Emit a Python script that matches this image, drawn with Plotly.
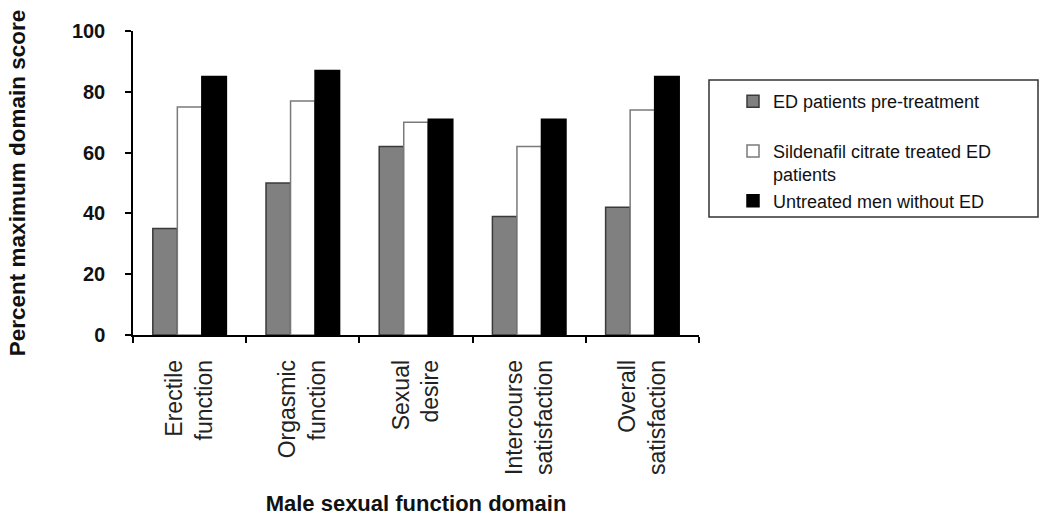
import plotly.graph_objects as go

categories = ["Erectile<br>function", "Orgasmic<br>function", "Sexual<br>desire",
              "Intercourse<br>satisfaction", "Overall<br>satisfaction"]
pre_treatment = [35, 50, 62, 39, 42]
sildenafil = [75, 77, 70, 62, 74]
untreated = [85, 87, 71, 71, 85]

series_names = ["ED patients pre-treatment<br> ",
                "Sildenafil citrate treated ED<br>patients",
                "Untreated men without ED"]

W, H = 1039, 516
L, R, T, B = 133, 340, 31, 181
pw, ph = W - L - R, H - T - B

def px_x(x):
    return (x - L) / pw

def px_y(y):
    return (H - B - y) / ph

fig = go.Figure()
fig.add_trace(go.Bar(x=categories, y=pre_treatment, name=series_names[0],
                     marker=dict(color="#808080", line=dict(color="#3a3a3a", width=1.5)),
                     legendgroup="a"))
fig.add_trace(go.Bar(x=categories, y=sildenafil, name=series_names[1],
                     marker=dict(color="#ffffff", line=dict(color="#7a7a7a", width=1.5)),
                     legendgroup="b"))
fig.add_trace(go.Bar(x=categories, y=untreated, name=series_names[2],
                     marker=dict(color="#000000", line=dict(color="#000000", width=1.5)),
                     legendgroup="c"))

fig.update_layout(
    width=W, height=H,
    margin=dict(l=L, r=R, t=T, b=B, autoexpand=False),
    paper_bgcolor="white", plot_bgcolor="white",
    barmode="group", bargap=0.35, bargroupgap=0,
    font=dict(family="Liberation Sans, Arial, sans-serif", color="#111111"),
    showlegend=True,
    legend=dict(x=px_x(733), y=px_y(83), xanchor="left", yanchor="top",
                bgcolor="rgba(0,0,0,0)", borderwidth=0,
                font=dict(size=18, color="#111111"),
                valign="top", tracegroupgap=0, traceorder="normal",
                itemclick=False),
    xaxis=dict(
        showline=True, linecolor="#000000", linewidth=1.5,
        ticks="outside", tickson="boundaries", ticklen=6, tickwidth=1.5, tickcolor="#000000",
        tickangle=-90, tickfont=dict(size=23, color="#222222"),
        ticklabelstandoff=14,
        showgrid=False, zeroline=False, automargin=False,
        title=dict(text="<b>Male sexual function domain</b>", font=dict(size=22, color="#111111"),
                   standoff=24),
    ),
    yaxis=dict(
        range=[0, 100], tickvals=[0, 20, 40, 60, 80, 100],
        showline=True, linecolor="#000000", linewidth=1.5,
        ticks="outside", ticklen=6, tickwidth=1.5, tickcolor="#000000",
        tickfont=dict(size=20, color="#111111", weight="bold"),
        ticklabelstandoff=16,
        showgrid=False, zeroline=False, automargin=False,
        title=dict(text="<b>Percent maximum domain score</b>", font=dict(size=22.5, color="#111111"),
                   standoff=40),
    ),
    shapes=[dict(type="rect", xref="paper", yref="paper",
                 x0=px_x(709), x1=px_x(1038), y0=px_y(217), y1=px_y(80),
                 line=dict(color="#333333", width=1.5), fillcolor="rgba(0,0,0,0)")],
)

fig.write_html("out.html",
               config={"displayModeBar": False},
               post_script="document.body.style.margin='0';document.body.style.padding='0';")
